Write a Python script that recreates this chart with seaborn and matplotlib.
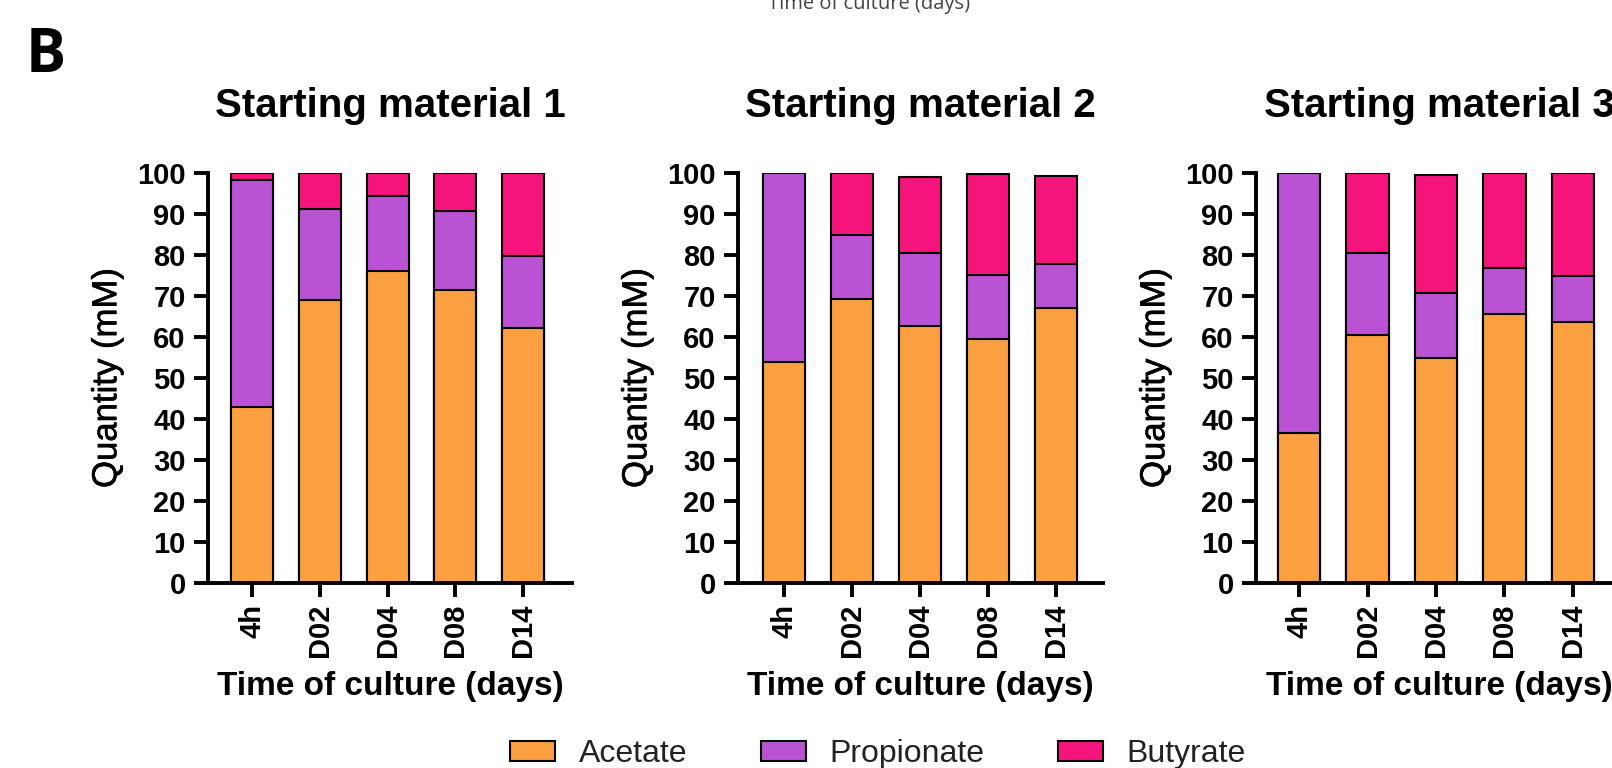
import matplotlib
matplotlib.use("Agg")
import matplotlib.pyplot as plt
import matplotlib.patheffects as pe
from matplotlib.patches import Patch
import numpy as np
import pandas as pd
import seaborn as sns

# Short-chain fatty acid composition over time, three starting materials
days = ["4h", "D02", "D04", "D08", "D14"]
materials = ["Starting material 1", "Starting material 2", "Starting material 3"]
species = ["Acetate", "Propionate", "Butyrate"]

acetate_m1 = [43.0, 69.0, 76.2, 71.4, 62.3]
propionate_m1 = [55.4, 22.1, 18.1, 19.3, 17.5]
butyrate_m1 = [1.6, 8.9, 5.7, 9.3, 20.2]

acetate_m2 = [54.0, 69.2, 62.7, 59.5, 67.1]
propionate_m2 = [46.0, 15.8, 17.8, 15.7, 10.8]
butyrate_m2 = [0.0, 15.0, 18.6, 24.6, 21.3]

acetate_m3 = [36.6, 60.5, 55.0, 65.7, 63.7]
propionate_m3 = [63.4, 20.0, 15.8, 11.2, 11.2]
butyrate_m3 = [0.0, 19.5, 28.6, 23.1, 25.1]

colors = {"Acetate": "#FAA040", "Propionate": "#B953D3", "Butyrate": "#F5157C"}

series = {
    materials[0]: (acetate_m1, propionate_m1, butyrate_m1),
    materials[1]: (acetate_m2, propionate_m2, butyrate_m2),
    materials[2]: (acetate_m3, propionate_m3, butyrate_m3),
}

rows = []
for mat, (a, p, b) in series.items():
    for i, d in enumerate(days):
        rows.append({"material": mat, "day": d, "Acetate": a[i],
                     "Propionate": p[i], "Butyrate": b[i]})
df = pd.DataFrame(rows)
# cumulative tops so overlapping bars read as a stack
df["top_Acetate"] = df["Acetate"]
df["top_Propionate"] = df["Acetate"] + df["Propionate"]
df["top_Butyrate"] = df["top_Propionate"] + df["Butyrate"]

sns.set_style("ticks")
plt.rcParams["font.family"] = ["Liberation Sans", "DejaVu Sans"]
plt.rcParams.update({
    "text.color": "black",
    "axes.labelcolor": "black",
    "axes.edgecolor": "black",
    "xtick.color": "black",
    "ytick.color": "black",
})

W, H = 1612, 768
fig = plt.figure(figsize=(W / 100, H / 100), dpi=100)

# axes boxes in pixels: left, width, x-limits
boxes = [
    (208, 364, (-0.65, 4.72)),
    (738, 365, (-0.68, 4.69)),
    (1256, 366, (-0.63, 4.72)),
]
y_bottom, y_top = 583, 173

for mat, (left, width, xlim) in zip(materials, boxes):
    ax = fig.add_axes([left / W, 1 - y_bottom / H, width / W, (y_bottom - y_top) / H])
    sub = df[df["material"] == mat]
    for sp in ["Butyrate", "Propionate", "Acetate"]:
        sns.barplot(data=sub, x="day", y=f"top_{sp}", order=days, ax=ax,
                    color=colors[sp], saturation=1, width=0.62,
                    edgecolor="black", linewidth=1.5, errorbar=None)
    ax.set_xlim(*xlim)
    ax.set_ylim(0, 100)
    ax.set_yticks(np.arange(0, 101, 10))
    sns.despine(ax=ax)
    for s in ["left", "bottom"]:
        ax.spines[s].set_linewidth(2.8)
    ax.tick_params(axis="both", width=2.8, length=10, color="black")
    ax.tick_params(axis="y", labelsize=21, pad=6)
    ax.tick_params(axis="x", labelsize=21, pad=5, labelrotation=90)
    for lab in ax.get_xticklabels() + ax.get_yticklabels():
        lab.set_fontweight("bold")
    ax.set_title(mat, fontsize=29, fontweight="bold", pad=40)
    ax.set_xlabel("Time of culture (days)", fontsize=24, fontweight="bold", labelpad=10)
    ylab = ax.set_ylabel("Quantity (mM)", fontsize=25, labelpad=10)
    ylab.set_path_effects([pe.withStroke(linewidth=0.45, foreground="black")])

handles = [Patch(facecolor=colors[s], edgecolor="black", linewidth=1.5, label=s)
           for s in species]
leg = fig.legend(handles=handles, loc="center", ncol=3, frameon=False,
                 bbox_to_anchor=(878 / W, 1 - 754 / H), fontsize=23,
                 handlelength=1.4, handleheight=0.6, handletextpad=0.75,
                 columnspacing=2.3)
for t in leg.get_texts():
    t.set_color("#222222")

fig.text(26 / W, 1 - 72 / H, "B", fontsize=43, fontweight="bold",
         family="Open Sans", va="baseline", ha="left")
fig.text(869 / W, 1 - 9 / H, "Time of culture (days)", fontsize=14.5,
         family="Open Sans", color="#444444", va="baseline", ha="center")

fig.savefig("out.png", dpi=100)
